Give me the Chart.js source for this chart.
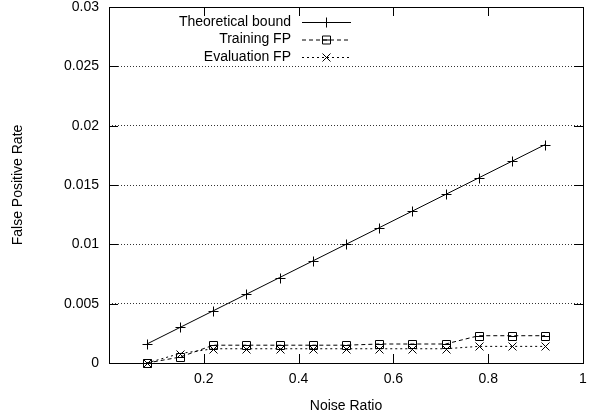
<!DOCTYPE html>
<html>
<head>
<meta charset="utf-8">
<script src="https://cdn.jsdelivr.net/npm/chart.js@4"></script>
<style>
  html, body { margin: 0; padding: 0; background: #fff; }
  #wrap { width: 590px; height: 419px; }
</style>
</head>
<body>
<div id="wrap"><canvas id="grafica"></canvas></div>
<script>
// ===== datos =====
const noiseRatio = [0.08, 0.15, 0.22, 0.29, 0.36, 0.43, 0.50, 0.57, 0.64, 0.71, 0.78, 0.85, 0.92];
const theoretical = [0.0016, 0.0030, 0.0044, 0.0058, 0.0072, 0.0086, 0.0100, 0.0114, 0.0128, 0.0142, 0.0156, 0.0170, 0.0184];
const trainingFP = [0.0000, 0.0005, 0.0015, 0.0015, 0.0015, 0.0015, 0.0015, 0.0016, 0.0016, 0.0016, 0.0023, 0.0023, 0.0023];
const evaluationFP = [0.0000, 0.0008, 0.0012, 0.0012, 0.0012, 0.0012, 0.0012, 0.0012, 0.0012, 0.0012, 0.0014, 0.0014, 0.0014];
const seriesNames = ["Theoretical bound", "Training FP", "Evaluation FP"];
const xTicks = [0.2, 0.4, 0.6, 0.8, 1];

const FONT = "'Liberation Sans', Arial, Helvetica, sans-serif";
const INK = "#000";

function pares(ys) {
  return noiseRatio.map((x, i) => ({ x, y: ys[i] }));
}

// marcador estilo gnuplot
function dibujarMarca(ctx, estilo, x, y) {
  ctx.save();
  ctx.strokeStyle = INK;
  ctx.lineWidth = 1;
  ctx.setLineDash([]);
  ctx.beginPath();
  if (estilo === "cross") {
    ctx.moveTo(x - 5, y); ctx.lineTo(x + 5, y);
    ctx.moveTo(x, y - 5); ctx.lineTo(x, y + 5);
  } else if (estilo === "rect") {
    ctx.rect(x - 4, y - 4, 8, 8);
    ctx.moveTo(x - 4, y); ctx.lineTo(x + 4, y);
  } else {
    ctx.moveTo(x - 4, y - 4); ctx.lineTo(x + 4, y + 4);
    ctx.moveTo(x - 4, y + 4); ctx.lineTo(x + 4, y - 4);
  }
  ctx.stroke();
  ctx.restore();
}

// marco, marcas hacia dentro y leyenda
const marcoPlugin = {
  id: "marco",
  afterDatasetsDraw(chart) {
    const { ctx, chartArea: a, scales } = chart;
    ctx.save();
    ctx.strokeStyle = INK;
    ctx.lineWidth = 1;
    ctx.strokeRect(a.left + 0.5, a.top + 0.5, a.right - a.left, a.bottom - a.top);
    ctx.beginPath();
    xTicks.forEach(v => {
      const px = Math.round(scales.x.getPixelForValue(v)) + 0.5;
      ctx.moveTo(px, a.bottom); ctx.lineTo(px, a.bottom - 9);
      ctx.moveTo(px, a.top); ctx.lineTo(px, a.top + 9);
    });
    scales.y.ticks.forEach(t => {
      const py = Math.round(scales.y.getPixelForValue(t.value)) + 0.5;
      ctx.moveTo(a.left, py); ctx.lineTo(a.left + 9, py);
      ctx.moveTo(a.right, py); ctx.lineTo(a.right - 9, py);
    });
    ctx.stroke();

    // leyenda
    ctx.font = "14px " + FONT;
    ctx.fillStyle = INK;
    ctx.textAlign = "right";
    ctx.textBaseline = "middle";
    chart.data.datasets.forEach((ds, i) => {
      const y = 22 + i * 17.5;
      ctx.fillText(ds.label, 291, y);
      ctx.beginPath();
      ctx.setLineDash(ds.borderDash || []);
      ctx.moveTo(302, y + 0.5); ctx.lineTo(351, y + 0.5);
      ctx.stroke();
      ctx.setLineDash([]);
      dibujarMarca(ctx, ds.marca, 326.5, y + 0.5);
    });
    ctx.restore();
  }
};

const estilos = [
  { marca: "cross", dash: [] },
  { marca: "rect", dash: [4, 3] },
  { marca: "crossRot", dash: [2, 3] }
];
const valores = [theoretical, trainingFP, evaluationFP];

new Chart(document.getElementById("grafica"), {
  type: "scatter",
  data: {
    datasets: valores.map((v, i) => ({
      label: seriesNames[i],
      data: pares(v),
      showLine: true,
      borderColor: INK,
      borderWidth: 1,
      borderDash: estilos[i].dash,
      marca: estilos[i].marca,
      pointStyle: false,
      tension: 0
    }))
  },
  options: {
    responsive: true,
    maintainAspectRatio: false,
    animation: false,
    layout: { padding: { left: 0, right: 7, top: 7, bottom: 0 } },
    plugins: { legend: { display: false }, tooltip: { enabled: false } },
    scales: {
      x: {
        type: "linear",
        min: 0, max: 1,
        afterBuildTicks: (s) => { s.ticks = xTicks.map(v => ({ value: v })); },
        ticks: {
          color: INK, font: { family: FONT, size: 14 }, padding: 8,
          callback: (v) => String(Math.round(v * 10) / 10)
        },
        grid: { display: false, drawTicks: false },
        border: { display: false },
        title: { display: true, text: "Noise Ratio", color: INK, font: { family: FONT, size: 14 }, padding: { top: 4, bottom: 4 } },
        afterFit: (s) => { s.height = 56; s.paddingLeft = 0; s.paddingRight = 0; }
      },
      y: {
        min: 0, max: 0.03,
        ticks: {
          stepSize: 0.005, color: INK, font: { family: FONT, size: 14 }, padding: 10,
          callback: (v) => String(parseFloat(Number(v).toFixed(4)))
        },
        grid: { color: "#333", lineWidth: 1, drawTicks: false },
        border: { display: false, dash: [1, 2] },
        title: { display: true, text: "False Positive Rate", color: INK, font: { family: FONT, size: 14 }, padding: { top: 10, bottom: 4 } },
        afterFit: (s) => { s.width = 109; s.paddingTop = 0; s.paddingBottom = 0; }
      }
    }
  },
  plugins: [marcoPlugin, {
    id: "marcas",
    afterDatasetsDraw(chart) {
      const ctx = chart.ctx;
      chart.data.datasets.forEach((ds, i) => {
        chart.getDatasetMeta(i).data.forEach(p => dibujarMarca(ctx, ds.marca, Math.round(p.x) + 0.5, Math.round(p.y) + 0.5));
      });
    }
  }]
});
</script>
</body>
</html>
